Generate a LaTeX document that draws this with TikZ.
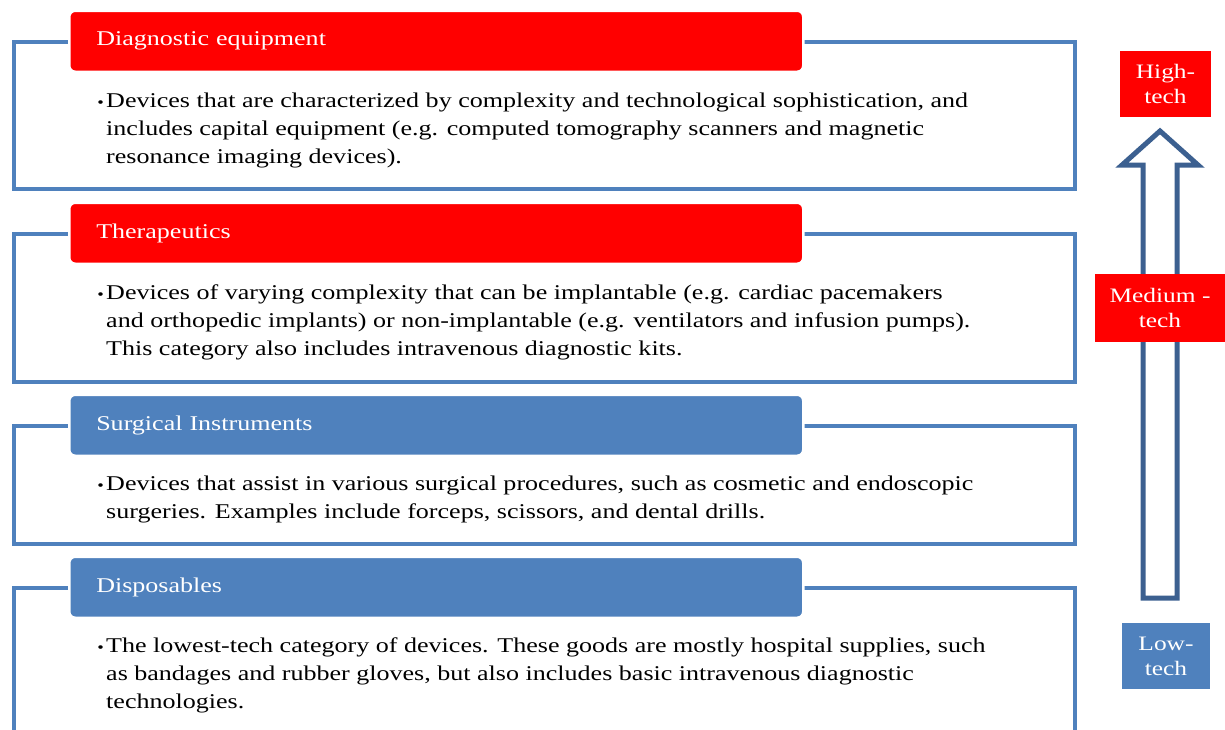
\documentclass[tikz,border=0pt]{standalone}
\usepackage{fontspec}
\setmainfont[FakeStretch=1.24]{Liberation Serif}
\definecolor{boxblue}{HTML}{4F81BD}
\definecolor{arrowblue}{HTML}{3C6090}
\definecolor{hdrred}{HTML}{FF0000}
\begin{document}
\begin{tikzpicture}[x=1pt,y=-1pt,
  frame/.style={draw=boxblue, line width=4pt, minimum width=1061pt, anchor=north west, inner sep=0pt},
  hdr/.style={rounded corners=6pt, draw=white, line width=2.5pt, text=white, text width=680pt, inner xsep=27pt,
     minimum height=61pt, anchor=north west, align=left, font=\fontsize{21}{25}\selectfont},
  body/.style={anchor=base west, align=left, inner sep=0pt, font=\fontsize{21}{28}\selectfont},
  bullet/.style={anchor=base east, inner sep=0pt, font=\fontsize{15}{28}\selectfont},
  tag/.style={text=white, align=center, inner sep=0pt, font=\fontsize{20.5}{25}\selectfont}]
\useasboundingbox (0,0) rectangle (1225,729);
\clip (0,0) rectangle (1225,729);
% frames
\node[frame, minimum height=147pt] (f1) at (12,40) {};
\node[frame, minimum height=148pt] (f2) at (12,232) {};
\node[frame, minimum height=118pt] (f3) at (12,424) {};
\node[frame, minimum height=180pt] (f4) at (12,586) {};
% headers
\node[hdr, fill=hdrred] (h1) at (68,9.5) {Diagnostic equipment};
\node[hdr, fill=hdrred] (h2) at (68,201.5) {Therapeutics};
\node[hdr, fill=boxblue] (h3) at (68,393.5) {Surgical Instruments};
\node[hdr, fill=boxblue] (h4) at (68,555.5) {Disposables};
% bodies (anchored at the baseline of the last line)
\node[bullet] (b1) at (104,107) {•};
\node[body] (t1) at (106,163) {Devices that are characterized by complexity and technological sophistication, and\\
includes capital equipment (e.g. computed tomography scanners and magnetic\\
resonance imaging devices).};
\node[bullet] (b2) at (104,299) {•};
\node[body] (t2) at (106,355) {Devices of varying complexity that can be implantable (e.g. cardiac pacemakers\\
and orthopedic implants) or non-implantable (e.g. ventilators and infusion pumps).\\
This category also includes intravenous diagnostic kits.};
\node[bullet] (b3) at (104,490) {•};
\node[body] (t3) at (106,518) {Devices that assist in various surgical procedures, such as cosmetic and endoscopic\\
surgeries. Examples include forceps, scissors, and dental drills.};
\node[bullet] (b4) at (104,652) {•};
\node[body] (t4) at (106,708) {The lowest-tech category of devices. These goods are mostly hospital supplies, such\\
as bandages and rubber gloves, but also includes basic intravenous diagnostic\\
technologies.};
% arrow
\draw[arrowblue, line width=5pt, fill=white, line join=miter]
  (1143,598) -- (1143,165) -- (1122,165) -- (1160,131) -- (1198,165) -- (1177,165) -- (1177,598) -- cycle;
% tags
\node[tag, fill=hdrred, minimum width=91pt, minimum height=66pt] (hi) at (1165.5,84) {High-\\tech};
\node[tag, fill=hdrred, minimum width=130pt, minimum height=68pt] (med) at (1160,308) {Medium -\\tech};
\node[tag, fill=boxblue, minimum width=88pt, minimum height=66pt] (lo) at (1166,656) {Low-\\tech};
\end{tikzpicture}
\end{document}
